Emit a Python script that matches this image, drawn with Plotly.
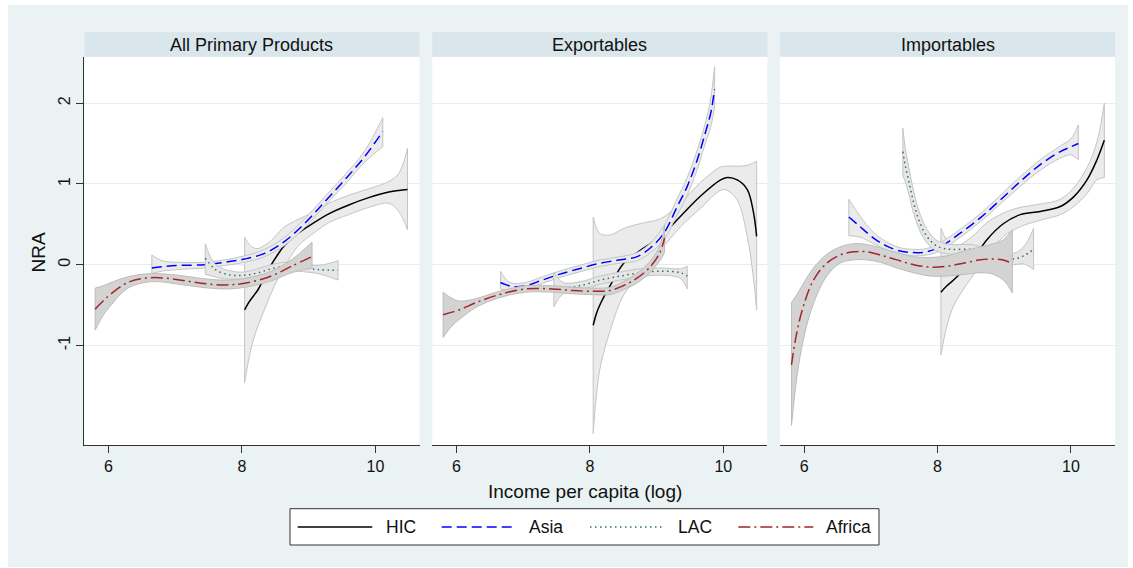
import plotly.graph_objects as go

W, H = 1133, 568

panel_titles = ["All Primary Products", "Exportables", "Importables"]
series_names = ["HIC", "Asia", "LAC", "Africa"]
x_ticks = [6, 8, 10]
y_ticks = [-1, 0, 1, 2]
y_ticklabels = ["-1", "0", "1", "2"]
x_title = "Income per capita (log)"
y_title = "NRA"

# ---------------- All Primary Products ----------------
app_hic_x = [8.04, 8.1, 8.17, 8.24, 8.34, 8.44, 8.54, 8.64, 8.84, 9.04, 9.3, 9.6, 9.9, 10.2, 10.35, 10.48]
app_hic_fit = [-0.56, -0.47, -0.39, -0.31, -0.15, 0.0, 0.13, 0.24, 0.39, 0.50, 0.63, 0.74, 0.83, 0.90, 0.92, 0.93]
app_hic_hi = [0.34, 0.26, 0.21, 0.20, 0.24, 0.30, 0.39, 0.47, 0.56, 0.64, 0.76, 0.86, 0.94, 1.03, 1.13, 1.44]
app_hic_lo = [-1.46, -1.18, -0.93, -0.76, -0.55, -0.35, -0.17, -0.02, 0.23, 0.37, 0.52, 0.62, 0.71, 0.76, 0.66, 0.43]

app_asia_x = [6.65, 6.8, 7.04, 7.44, 7.74, 8.04, 8.34, 8.64, 8.94, 9.24, 9.54, 9.84, 10.11]
app_asia_fit = [-0.04, -0.025, -0.01, 0.0, 0.03, 0.07, 0.14, 0.29, 0.51, 0.78, 1.05, 1.34, 1.65]
app_asia_hi = [0.12, 0.05, 0.03, 0.03, 0.06, 0.11, 0.19, 0.34, 0.57, 0.84, 1.11, 1.41, 1.82]
app_asia_lo = [-0.11, -0.08, -0.06, -0.04, -0.01, 0.03, 0.10, 0.24, 0.46, 0.73, 0.99, 1.27, 1.46]

app_lac_x = [7.45, 7.55, 7.64, 7.84, 8.04, 8.24, 8.44, 8.64, 8.84, 9.14, 9.44]
app_lac_fit = [0.08, -0.02, -0.08, -0.13, -0.13, -0.10, -0.05, -0.02, -0.03, -0.06, -0.07]
app_lac_hi = [0.26, 0.06, -0.02, -0.08, -0.09, -0.05, 0.0, 0.03, 0.02, -0.01, 0.05]
app_lac_lo = [-0.12, -0.14, -0.16, -0.18, -0.17, -0.14, -0.09, -0.06, -0.08, -0.11, -0.19]

app_afr_x = [5.80, 5.92, 6.04, 6.29, 6.64, 7.04, 7.39, 7.74, 8.04, 8.44, 8.74, 9.05]
app_afr_fit = [-0.55, -0.45, -0.36, -0.22, -0.16, -0.185, -0.23, -0.25, -0.23, -0.14, -0.02, 0.10]
app_afr_hi = [-0.29, -0.26, -0.22, -0.15, -0.11, -0.13, -0.17, -0.19, -0.17, -0.08, 0.06, 0.28]
app_afr_lo = [-0.81, -0.63, -0.50, -0.29, -0.21, -0.24, -0.28, -0.30, -0.28, -0.20, -0.10, -0.04]

# ---------------- Exportables ----------------
exp_hic_x = [8.05, 8.1, 8.16, 8.31, 8.51, 8.76, 9.06, 9.36, 9.66, 9.96, 10.06, 10.21, 10.36, 10.45, 10.50]
exp_hic_fit = [-0.75, -0.60, -0.48, -0.25, 0.02, 0.18, 0.35, 0.60, 0.85, 1.05, 1.08, 1.05, 0.93, 0.66, 0.35]
exp_hic_hi = [0.59, 0.45, 0.38, 0.37, 0.45, 0.51, 0.57, 0.76, 1.02, 1.21, 1.22, 1.22, 1.23, 1.26, 1.28]
exp_hic_lo = [-2.09, -1.60, -1.25, -0.80, -0.37, -0.12, 0.18, 0.47, 0.70, 0.92, 0.92, 0.80, 0.35, -0.15, -0.56]

exp_asia_x = [6.66, 6.75, 6.84, 7.04, 7.29, 7.54, 7.84, 8.16, 8.46, 8.71, 8.91, 9.11, 9.31, 9.46, 9.61, 9.73, 9.81, 9.87]
exp_asia_fit = [-0.22, -0.25, -0.27, -0.26, -0.19, -0.12, -0.05, 0.02, 0.06, 0.10, 0.21, 0.39, 0.72, 0.97, 1.30, 1.63, 1.87, 2.17]
exp_asia_hi = [-0.08, -0.19, -0.23, -0.22, -0.15, -0.08, -0.01, 0.06, 0.10, 0.15, 0.27, 0.48, 0.82, 1.08, 1.42, 1.75, 2.05, 2.45]
exp_asia_lo = [-0.30, -0.31, -0.31, -0.30, -0.23, -0.16, -0.09, -0.02, 0.02, 0.05, 0.15, 0.31, 0.62, 0.86, 1.18, 1.50, 1.70, 1.95]

exp_lac_x = [7.46, 7.6, 7.86, 8.16, 8.46, 8.76, 9.06, 9.36, 9.46]
exp_lac_fit = [-0.30, -0.29, -0.26, -0.19, -0.14, -0.10, -0.08, -0.10, -0.14]
exp_lac_hi = [-0.10, -0.22, -0.21, -0.14, -0.09, -0.05, -0.04, -0.05, -0.02]
exp_lac_lo = [-0.52, -0.36, -0.31, -0.24, -0.19, -0.15, -0.13, -0.17, -0.30]

exp_afr_x = [5.80, 5.92, 6.04, 6.29, 6.64, 7.04, 7.44, 7.74, 8.04, 8.3, 8.5, 8.7, 8.9, 9.05, 9.12]
exp_afr_fit = [-0.62, -0.59, -0.56, -0.47, -0.37, -0.30, -0.30, -0.32, -0.33, -0.32, -0.26, -0.17, -0.03, 0.15, 0.33]
exp_afr_hi = [-0.34, -0.41, -0.45, -0.42, -0.33, -0.26, -0.26, -0.28, -0.29, -0.28, -0.21, -0.11, 0.04, 0.24, 0.49]
exp_afr_lo = [-0.90, -0.77, -0.68, -0.53, -0.41, -0.34, -0.34, -0.36, -0.37, -0.37, -0.31, -0.23, -0.10, 0.05, 0.15]

# ---------------- Importables ----------------
imp_hic_x = [8.05, 8.14, 8.24, 8.49, 8.74, 8.99, 9.24, 9.54, 9.84, 10.04, 10.24, 10.39, 10.50]
imp_hic_fit = [-0.34, -0.26, -0.19, 0.02, 0.31, 0.51, 0.62, 0.66, 0.72, 0.84, 1.05, 1.30, 1.54]
imp_hic_hi = [0.45, 0.30, 0.22, 0.33, 0.52, 0.64, 0.71, 0.75, 0.81, 0.95, 1.20, 1.52, 2.00]
imp_hic_lo = [-1.12, -0.76, -0.51, -0.18, 0.10, 0.35, 0.47, 0.55, 0.62, 0.72, 0.88, 1.05, 1.08]

imp_asia_x = [6.67, 6.84, 7.04, 7.24, 7.44, 7.64, 7.84, 8.04, 8.34, 8.64, 8.94, 9.24, 9.54, 9.84, 10.0, 10.11]
imp_asia_fit = [0.59, 0.47, 0.33, 0.23, 0.17, 0.15, 0.16, 0.22, 0.39, 0.58, 0.80, 1.03, 1.24, 1.40, 1.46, 1.50]
imp_asia_hi = [0.81, 0.60, 0.40, 0.28, 0.21, 0.19, 0.20, 0.27, 0.44, 0.63, 0.86, 1.09, 1.30, 1.47, 1.56, 1.73]
imp_asia_lo = [0.36, 0.34, 0.26, 0.18, 0.13, 0.11, 0.12, 0.17, 0.34, 0.53, 0.75, 0.97, 1.17, 1.32, 1.36, 1.30]

imp_lac_x = [7.48, 7.52, 7.57, 7.62, 7.67, 7.74, 7.84, 7.99, 8.19, 8.49, 8.74, 8.99, 9.14, 9.29, 9.44]
imp_lac_fit = [1.40, 1.21, 1.03, 0.84, 0.68, 0.51, 0.35, 0.23, 0.19, 0.19, 0.14, 0.08, 0.07, 0.11, 0.19]
imp_lac_hi = [1.69, 1.42, 1.20, 0.99, 0.81, 0.62, 0.44, 0.30, 0.25, 0.25, 0.20, 0.14, 0.14, 0.22, 0.45]
imp_lac_lo = [1.10, 1.02, 0.87, 0.70, 0.56, 0.41, 0.27, 0.17, 0.13, 0.13, 0.08, 0.02, 0.0, 0.01, -0.06]

imp_afr_x = [5.81, 5.89, 5.99, 6.14, 6.34, 6.54, 6.74, 6.94, 7.14, 7.39, 7.64, 7.89, 8.14, 8.4, 8.64, 8.8, 8.97, 9.05, 9.12]
imp_afr_fit = [-1.24, -0.84, -0.51, -0.19, 0.02, 0.12, 0.16, 0.16, 0.12, 0.06, 0.0, -0.03, -0.02, 0.02, 0.06, 0.07, 0.06, 0.04, 0.02]
imp_afr_hi = [-0.47, -0.37, -0.23, -0.04, 0.13, 0.22, 0.26, 0.25, 0.21, 0.15, 0.10, 0.09, 0.11, 0.17, 0.22, 0.25, 0.30, 0.36, 0.43]
imp_afr_lo = [-1.99, -1.40, -0.92, -0.48, -0.14, 0.02, 0.06, 0.06, 0.03, -0.04, -0.10, -0.14, -0.14, -0.12, -0.10, -0.11, -0.18, -0.25, -0.35]

panel_data = [
    [(app_hic_x, app_hic_fit, app_hic_lo, app_hic_hi),
     (app_asia_x, app_asia_fit, app_asia_lo, app_asia_hi),
     (app_lac_x, app_lac_fit, app_lac_lo, app_lac_hi),
     (app_afr_x, app_afr_fit, app_afr_lo, app_afr_hi)],
    [(exp_hic_x, exp_hic_fit, exp_hic_lo, exp_hic_hi),
     (exp_asia_x, exp_asia_fit, exp_asia_lo, exp_asia_hi),
     (exp_lac_x, exp_lac_fit, exp_lac_lo, exp_lac_hi),
     (exp_afr_x, exp_afr_fit, exp_afr_lo, exp_afr_hi)],
    [(imp_hic_x, imp_hic_fit, imp_hic_lo, imp_hic_hi),
     (imp_asia_x, imp_asia_fit, imp_asia_lo, imp_asia_hi),
     (imp_lac_x, imp_lac_fit, imp_lac_lo, imp_lac_hi),
     (imp_afr_x, imp_afr_fit, imp_afr_lo, imp_afr_hi)],
]

styles = {
    "HIC": dict(color="#000000", dash="solid", fill="#ebebeb", edge="#c4c4c4"),
    "Asia": dict(color="#0000ff", dash="10px,5px", fill="#ebebeb", edge="#c4c4c4"),
    "LAC": dict(color="#2f6f60", dash="1.5px,3.5px", fill="#e6e6e6", edge="#c4c4c4"),
    "Africa": dict(color="#a3262a", dash="12px,4px,2px,4px", fill="#d3d3d3", edge="#bcbcbc"),
}

FONT = "Liberation Sans, Arial, Helvetica, sans-serif"
BG = "#eaf2f3"
STRIP = "#d9e6eb"
GRID = "#e4edef"
AXIS = "#333333"

domains = [(84.3, 419.5), (432.3, 767.3), (780.0, 1115.0)]
plot_top, plot_bot = 56.7, 445.0
x_range = [5.638, 10.66]
y_range = [-2.232, 2.575]

fig = go.Figure()

for i, pdata in enumerate(panel_data):
    xa = "x" if i == 0 else f"x{i + 1}"
    ya = "y" if i == 0 else f"y{i + 1}"
    for name, (xs, fit, lo, hi) in zip(series_names, pdata):
        st = styles[name]
        fig.add_trace(go.Scatter(
            x=xs, y=lo, xaxis=xa, yaxis=ya, mode="lines",
            line=dict(color=st["edge"], width=1, shape="spline", smoothing=1),
            showlegend=False, hoverinfo="skip"))
        fig.add_trace(go.Scatter(
            x=xs, y=hi, xaxis=xa, yaxis=ya, mode="lines", fill="tonexty",
            fillcolor=st["fill"],
            line=dict(color=st["edge"], width=1, shape="spline", smoothing=1),
            showlegend=False, hoverinfo="skip"))
        # vertical end edges of the confidence band
        fig.add_trace(go.Scatter(
            x=[xs[0], xs[0], None, xs[-1], xs[-1]],
            y=[lo[0], hi[0], None, lo[-1], hi[-1]],
            xaxis=xa, yaxis=ya, mode="lines",
            line=dict(color=st["edge"], width=1),
            showlegend=False, hoverinfo="skip"))
        fig.add_trace(go.Scatter(
            x=xs, y=fit, xaxis=xa, yaxis=ya, mode="lines", name=name,
            line=dict(color=st["color"], width=1.5, dash=st["dash"],
                      shape="spline", smoothing=1),
            showlegend=False))

layout = dict(
    width=W, height=H,
    margin=dict(l=0, r=0, t=0, b=0, pad=0),
    paper_bgcolor=BG, plot_bgcolor="white",
    font=dict(family=FONT, color="#111111"),
    showlegend=False,
)
for i, (a, b) in enumerate(domains):
    xkey = "xaxis" if i == 0 else f"xaxis{i + 1}"
    ykey = "yaxis" if i == 0 else f"yaxis{i + 1}"
    xa = "x" if i == 0 else f"x{i + 1}"
    ya = "y" if i == 0 else f"y{i + 1}"
    layout[xkey] = dict(
        domain=[a / W, b / W], range=x_range, anchor=ya,
        tickvals=x_ticks, ticktext=[str(t) for t in x_ticks],
        ticks="outside", ticklen=7, tickwidth=1, tickcolor=AXIS,
        showline=True, linecolor=AXIS, linewidth=1,
        showgrid=False, zeroline=False,
        tickfont=dict(size=16, color="#111111"), fixedrange=True)
    layout[ykey] = dict(
        domain=[1 - plot_bot / H, 1 - plot_top / H], range=y_range, anchor=xa,
        tickvals=y_ticks, ticktext=y_ticklabels,
        showgrid=True, gridcolor=GRID, gridwidth=1, zeroline=False,
        showline=(i == 0), linecolor=AXIS, linewidth=1,
        ticks="outside" if i == 0 else "", ticklen=7, tickwidth=1, tickcolor=AXIS,
        showticklabels=(i == 0), tickangle=-90,
        tickfont=dict(size=16, color="#111111"), fixedrange=True)
fig.update_layout(**layout)

shapes = []
annotations = []
# white outer margins
for (x0, y0, x1, y1) in [(0, 0, 8, H), (0, 0, W, 5), (1128, 0, W, H), (0, 567, W, H)]:
    shapes.append(dict(type="rect", xref="paper", yref="paper",
                       x0=x0 / W, x1=x1 / W, y0=1 - y1 / H, y1=1 - y0 / H,
                       fillcolor="white", line=dict(width=0), layer="above"))
# panel strips and titles
for (a, b), title in zip(domains, panel_titles):
    shapes.append(dict(type="rect", xref="paper", yref="paper",
                       x0=a / W, x1=b / W, y0=1 - 56.7 / H, y1=1 - 32.3 / H,
                       fillcolor=STRIP, line=dict(width=0), layer="below"))
    annotations.append(dict(text=title, xref="paper", yref="paper",
                            x=(a + b) / 2 / W, y=1 - 44.5 / H,
                            xanchor="center", yanchor="middle", showarrow=False,
                            font=dict(size=18, color="#111111")))
# axis titles
annotations.append(dict(text=x_title, xref="paper", yref="paper",
                        x=584.5 / W, y=1 - 491.5 / H, xanchor="center", yanchor="middle",
                        showarrow=False, font=dict(size=19, color="#111111")))
annotations.append(dict(text=y_title, xref="paper", yref="paper",
                        x=37.5 / W, y=1 - 253 / H, xanchor="center", yanchor="middle",
                        textangle=-90, showarrow=False, font=dict(size=19, color="#111111")))
# legend
shapes.append(dict(type="rect", xref="paper", yref="paper",
                   x0=290 / W, x1=879 / W, y0=1 - 545 / H, y1=1 - 508.7 / H,
                   fillcolor="white", line=dict(color=AXIS, width=1)))
leg_line_x = [(297.7, 372.3), (441.7, 516.7), (590.0, 664.3), (738.3, 813.3)]
leg_text_x = [384.0, 527.3, 676.0, 824.3]
leg_y = 527.0
for name, (l0, l1), tx in zip(series_names, leg_line_x, leg_text_x):
    st = styles[name]
    shapes.append(dict(type="line", xref="paper", yref="paper",
                       x0=l0 / W, x1=l1 / W, y0=1 - leg_y / H, y1=1 - leg_y / H,
                       line=dict(color=st["color"], width=1.5, dash=st["dash"])))
    annotations.append(dict(text=name, xref="paper", yref="paper",
                            x=tx / W, y=1 - leg_y / H, xanchor="left", yanchor="middle",
                            showarrow=False, font=dict(size=17.5, color="#111111")))

fig.update_layout(shapes=shapes, annotations=annotations)
fig.write_html("out.html")
